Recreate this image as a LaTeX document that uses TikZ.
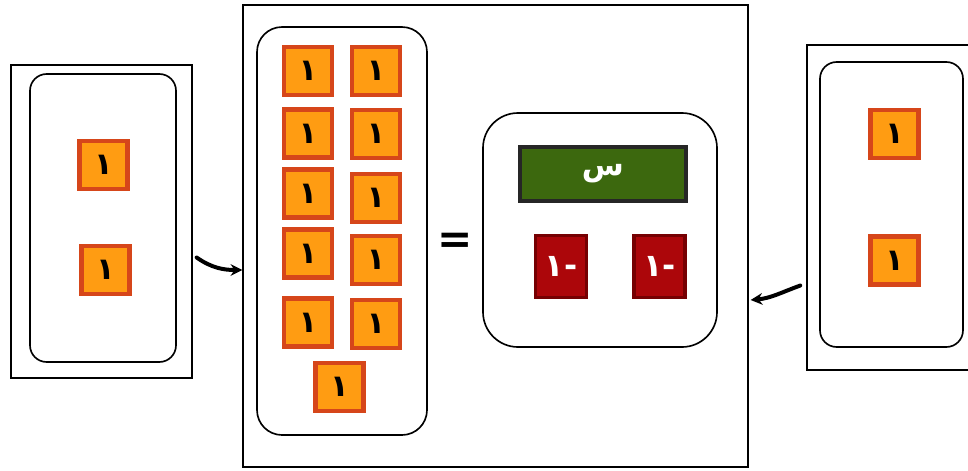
\documentclass[tikz,border=0pt]{standalone}
\usepackage{fontspec}
\newfontfamily\arabicfont[Script=Arabic]{DejaVu Sans}
\TeXXeTstate=1
\usepackage{tikz}
\definecolor{tilefill}{RGB}{255,156,18}
\definecolor{tileedge}{RGB}{214,70,26}
\definecolor{varfill}{RGB}{60,104,14}
\definecolor{negfill}{RGB}{172,6,10}
\definecolor{negedge}{RGB}{118,0,2}
\usetikzlibrary{arrows.meta, calc}

\newcommand{\arone}{\raisebox{-3pt}{\beginR ١\endR}}
\newcommand{\arnegone}{\raisebox{-2pt}{\beginR -١\endR}}

\tikzset{
  frame/.style={draw, line width=1.1pt, inner sep=0pt},
  tray/.style={draw, line width=1.4pt, inner sep=0pt},
  unit/.style={draw=tileedge, fill=tilefill, line width=3.6pt, inner sep=0pt,
    minimum size=48*0.03cm, font=\arabicfont\bfseries\fontsize{26}{26}\selectfont},
  negunit/.style={draw=negedge, fill=negfill, line width=2.6pt, inner sep=0pt,
    minimum width=51*0.03cm, minimum height=62*0.03cm, text=white,
    font=\arabicfont\bfseries\fontsize{27}{27}\selectfont},
  varbar/.style={draw=black!85, fill=varfill, line width=3.4pt, inner sep=0pt,
    minimum width=166*0.03cm, minimum height=54*0.03cm, text=white,
    font=\arabicfont\bfseries\fontsize{26}{26}\selectfont},
  move/.style={->, line width=3.4pt, line cap=round}
}

\begin{document}
\begin{tikzpicture}[x=0.03cm, y=-0.03cm, >={Stealth[length=10pt, width=10pt]}]
    \useasboundingbox (0,0) rectangle (968,470);
    % Left group
    \node[frame, minimum width=181*0.03cm, minimum height=313*0.03cm] (lbox) at (101.5,221.5) {};
    \node[tray, rounded corners=0.5cm, minimum width=146*0.03cm, minimum height=288*0.03cm] (ltray) at (103,218) {};
    \node[unit] (l1) at (103.5,165) {\arone};
    \node[unit] (l2) at (105.5,270) {\arone};
    % Middle group
    \node[frame, minimum width=505*0.03cm, minimum height=462*0.03cm] (mbox) at (495.5,236) {};
    \node[tray, rounded corners=0.75cm, minimum width=170*0.03cm, minimum height=408*0.03cm] (mtray) at (342,231) {};
    \foreach \y/\yy [count=\i] in {71/71, 133.5/134, 193.5/198, 253.5/260, 322.5/324} {
        \node[unit] (a\i) at (308,\y) {\arone};
        \node[unit] (b\i) at (376,\yy) {\arone};
    }
    \node[unit] (c1) at (339.5,387) {\arone};
    \node[font=\arabicfont\bfseries\fontsize{36}{36}\selectfont] (eq) at (455,243) {=};
    \node[tray, rounded corners=1.05cm, minimum width=234*0.03cm, minimum height=234*0.03cm] (rtray) at (600,230) {};
    \node[varbar] (x) at (603,174) {\raisebox{-3pt}{\beginR س\endR}};
    \node[negunit] (n1) at (561,266.5) {\arnegone};
    \node[negunit] (n2) at (659.5,266.5) {\arnegone};
    % Right group
    \node[frame, minimum width=165*0.03cm, minimum height=325*0.03cm] (rbox) at (889.5,207.5) {};
    \node[tray, rounded corners=0.5cm, minimum width=143*0.03cm, minimum height=285*0.03cm] (rtray2) at (891.5,204.5) {};
    \node[unit] (r1) at (894.5,134) {\arone};
    \node[unit] (r2) at (894.5,260.5) {\arone};
    % Arrows
    \draw[move] ($(lbox.east)+(4,36)$) to[out=-35, in=180] ($(mbox.west)+(0,34)$);
    \draw[move] ($(rbox.west)+(-6,78)$) to[out=200, in=5] ($(mbox.east)+(2,64)$);
\end{tikzpicture}
\end{document}
